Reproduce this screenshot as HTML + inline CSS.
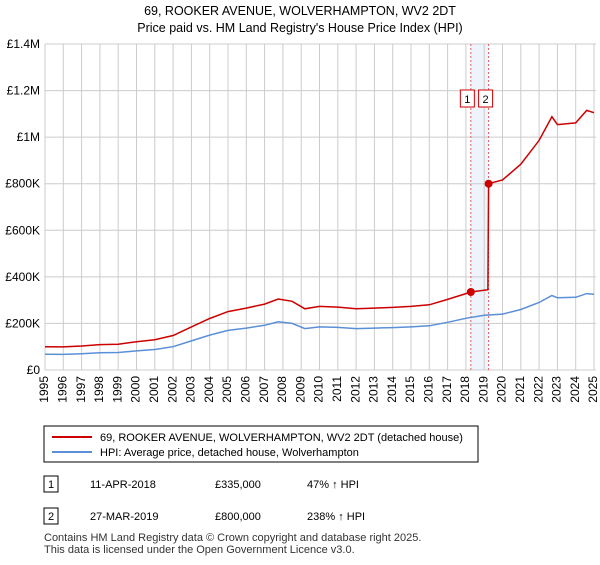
<!DOCTYPE html>
<html><head><meta charset="utf-8"><style>
body{margin:0;background:#fff;font-family:"Liberation Sans","DejaVu Sans",sans-serif;}
svg text{font-family:"Liberation Sans","DejaVu Sans",sans-serif;}
</style></head><body>
<svg width="600" height="560" xmlns="http://www.w3.org/2000/svg">
<text x="300" y="15" text-anchor="middle" font-size="12.5">69, ROOKER AVENUE, WOLVERHAMPTON, WV2 2DT</text>
<text x="300" y="32" text-anchor="middle" font-size="12.5">Price paid vs. HM Land Registry's House Price Index (HPI)</text>
<g id="grid"></g><g id="axes"></g><g id="series"></g>
<g>
<rect x="44" y="426" width="434" height="36" fill="#fff" stroke="#000" stroke-width="1"/>
<line x1="52" y1="437" x2="92" y2="437" stroke="#cc0000" stroke-width="2"/>
<text x="100" y="441" font-size="11">69, ROOKER AVENUE, WOLVERHAMPTON, WV2 2DT (detached house)</text>
<line x1="52" y1="452" x2="92" y2="452" stroke="#5b8fd6" stroke-width="2"/>
<text x="100" y="456" font-size="11">HPI: Average price, detached house, Wolverhampton</text>
</g>
<g font-size="11">
<rect x="44" y="476" width="14" height="16" fill="#fff" stroke="#000"/><text x="51" y="488" text-anchor="middle">1</text>
<text x="90" y="488">11-APR-2018</text><text x="215" y="488">£335,000</text><text x="307" y="488">47% ↑ HPI</text>
<rect x="44" y="508" width="14" height="16" fill="#fff" stroke="#000"/><text x="51" y="520" text-anchor="middle">2</text>
<text x="90" y="520">27-MAR-2019</text><text x="215" y="520">£800,000</text><text x="307" y="520">238% ↑ HPI</text>
</g>
<text x="44" y="541" font-size="11" fill="#333">Contains HM Land Registry data © Crown copyright and database right 2025.</text>
<text x="44" y="553" font-size="11" fill="#333">This data is licensed under the Open Government Licence v3.0.</text>
</svg>
<script>
const yTickValues=[0,200000,400000,600000,800000,1000000,1200000,1400000];
const yTickLabels=["£0","£200K","£400K","£600K","£800K","£1M","£1.2M","£1.4M"];
const xTickYears=[1995,1996,1997,1998,1999,2000,2001,2002,2003,2004,2005,2006,2007,2008,2009,2010,2011,2012,2013,2014,2015,2016,2017,2018,2019,2020,2021,2022,2023,2024,2025];
const hpiYears=[1995,1996,1997,1998,1999,2000,2001,2002,2003,2004,2005,2006,2007,2007.75,2008.5,2009.2,2010,2011,2012,2013,2014,2015,2016,2017,2018,2019,2020,2021,2022,2022.7,2023,2024,2024.6,2025];
const hpiValues=[68,67,70,74,75,82,88,100,125,150,170,180,192,207,200,178,185,183,178,180,182,185,190,205,222,235,240,260,290,320,310,312,328,325];
const priceYears=[1995,1996,1997,1998,1999,2000,2001,2002,2003,2004,2005,2006,2007,2007.75,2008.5,2009.2,2010,2011,2012,2013,2014,2015,2016,2017,2018,2018.27,2019.2,2019.24,2020,2021,2022,2022.7,2023,2024,2024.6,2025];
const priceValues=[100,99,103,109,111,121,130,148,185,221,251,266,283,305,295,263,273,270,263,266,269,273,280,303,328,335,345,800,816,884,986,1088,1054,1061,1115,1105];
const saleYears=[2018.27,2019.24];
const saleValues=[335000,800000];
const saleLabels=["1","2"];
const NS="http://www.w3.org/2000/svg";
const x0=45,x1=594,yb=370,yt=44;
const xs=y=>x0+(y-1995)/30*(x1-x0);
const ys=v=>yb-v/1400000*(yb-yt);
function mk(t,a,p){const e=document.createElementNS(NS,t);for(const k in a)e.setAttribute(k,a[k]);p.appendChild(e);return e;}
const grid=document.getElementById('grid'),axes=document.getElementById('axes'),ser=document.getElementById('series');
const band=mk('rect',{x:xs(saleYears[0]),y:yt,width:xs(saleYears[1])-xs(saleYears[0]),height:yb-yt,fill:'#eef3fc'},grid);


xTickYears.forEach(y=>{const l=mk('line',{x1:xs(y),x2:xs(y),y1:yt,y2:yb,stroke:'#ccc'},grid);


const t=mk('text',{x:xs(y),y:yb+6,'font-size':12,'text-anchor':'end',transform:`rotate(-90 ${xs(y)} ${yb+6})`,'dominant-baseline':'middle'},axes);t.textContent=y;

});
yTickValues.forEach((v,i)=>{const l=mk('line',{x1:x0,x2:x1+2,y1:ys(v),y2:ys(v),stroke:'#ccc'},grid);


const t=mk('text',{x:40,y:ys(v)+4,'font-size':12,'text-anchor':'end'},axes);t.textContent=yTickLabels[i];

});
saleYears.forEach((y,i)=>{const l=mk('line',{x1:xs(y),x2:xs(y),y1:yt,y2:yb,stroke:'#e06060','stroke-dasharray':'2,2'},grid);


const bx=xs(y)+(i==0?-3.5:-3);
const r=mk('rect',{x:bx-7,y:90,width:14,height:17,fill:'#fff',stroke:'#cc0000'},axes);


const t=mk('text',{x:bx,y:103,'font-size':11,'text-anchor':'middle'},axes);t.textContent=saleLabels[i];

});
function path(xa,va){return xa.map((y,i)=>(i?'L':'M')+xs(y).toFixed(1)+','+ys(va[i]*1000).toFixed(1)).join('');}
const hp=mk('path',{d:path(hpiYears,hpiValues),fill:'none',stroke:'#5b8fd6','stroke-width':1.5},ser);


const pp=mk('path',{d:path(priceYears,priceValues),fill:'none',stroke:'#cc0000','stroke-width':1.5},ser);


saleYears.forEach((y,i)=>{const c=mk('circle',{cx:xs(y),cy:ys(saleValues[i]),r:4,fill:'#cc0000'},ser);

});
</script>
</body></html>
